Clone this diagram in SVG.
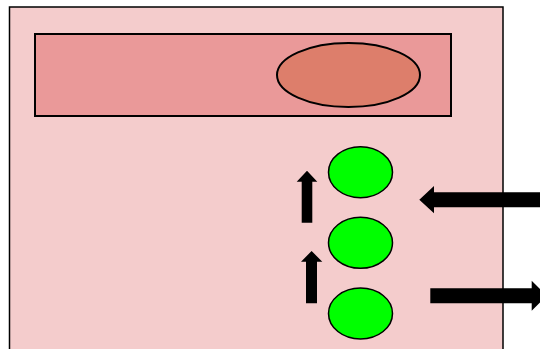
<svg xmlns="http://www.w3.org/2000/svg" width="540" height="349" viewBox="0 0 540 349">
  <style>
    .panel { fill: #f4cccc; stroke: #000; stroke-width: 1.5; }
    .bar { fill: #ea9999; stroke: #000; stroke-width: 2; }
    .lens { fill: #dd7e6b; stroke: #000; stroke-width: 2; }
    .dot { fill: #00ff00; stroke: #000; stroke-width: 1.5; }
    .arrow { fill: #000; stroke: none; }
  </style>
  <rect width="540" height="349" fill="#fff"/>
  <g id="panel">
    <rect class="panel" x="9.5" y="7" width="493.5" height="360"/>
  </g>
  <g id="bar">
    <rect class="bar" x="35" y="34" width="416" height="82"/>
  </g>
  <g id="lens">
    <ellipse class="lens" cx="348.5" cy="75" rx="71.5" ry="32"/>
  </g>
  <g id="dot-top">
    <ellipse class="dot" cx="360.5" cy="172.2" rx="32" ry="25.5"/>
  </g>
  <g id="dot-middle">
    <ellipse class="dot" cx="360.5" cy="242.8" rx="32" ry="25.5"/>
  </g>
  <g id="dot-bottom">
    <ellipse class="dot" cx="360.5" cy="313.5" rx="32" ry="25.5"/>
  </g>
  <g id="connectors">
    <!-- upward arrow beside the top dot -->
    <polygon class="arrow" points="301.7,222.7 301.7,181.7 296.7,181.7 307,170.7 317.3,181.7 312.3,181.7 312.3,222.7"/>
    <!-- upward arrow beside the middle dot -->
    <polygon class="arrow" points="306,303.3 306,261.7 301,261.7 311.6,251 322.3,261.7 317,261.7 317,303.3"/>
    <!-- incoming arrow from the right -->
    <polygon class="arrow" points="545,192.3 434,192.3 434,186 419.3,199.8 434,213.3 434,207.3 545,207.3"/>
    <!-- outgoing arrow to the right -->
    <polygon class="arrow" points="430.3,288.3 531.7,288.3 531.7,280.7 547,295.8 531.7,310.7 531.7,303.3 430.3,303.3"/>
  </g>
</svg>
